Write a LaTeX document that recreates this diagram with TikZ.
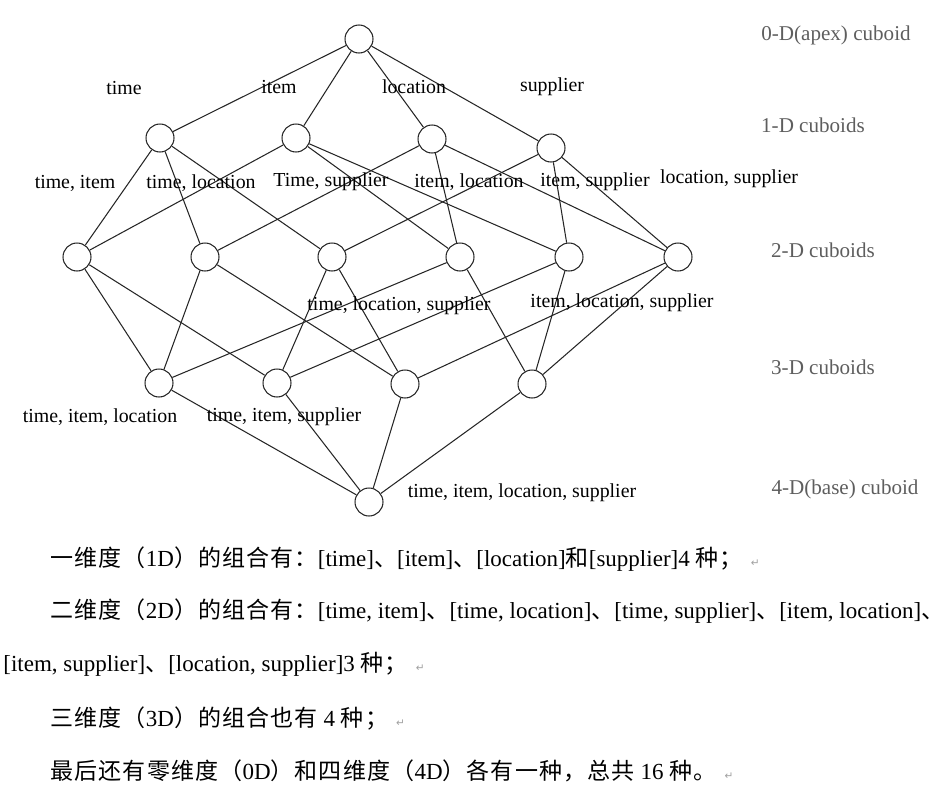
\documentclass[tikz,border=0pt]{standalone}
\usepackage{fontspec}
\setmainfont{Liberation Serif}
\newfontfamily\cjk[LetterSpace=5]{Noto Sans CJK SC}
\newfontfamily\marksym{DejaVu Sans}
\usepackage{tikz}
\usetikzlibrary{positioning}
\definecolor{levelgray}{HTML}{5E5E5E}
\definecolor{markgray}{HTML}{A0A0A0}
\newcommand{\zhtxt}[1]{{\cjk #1}}
\newcommand{\parmark}{\hspace{0.35em}{\marksym\fontsize{6}{7}\selectfont\textcolor{markgray}{↵}}}

\begin{document}
\begin{tikzpicture}[
    x=0.02cm, y=-0.02cm,
    cuboid/.style={
        circle,
        minimum size=0.56cm,
        inner sep=0pt,
        draw=black!85,
        fill=white,
        line width=0.6pt
    },
    link/.style={
        draw=black!85,
        line width=0.6pt
    },
    dimname/.style={
        font=\fontsize{11.3}{13}\selectfont,
        inner sep=0pt
    },
    levelname/.style={
        font=\fontsize{12}{14}\selectfont,
        text=levelgray,
        inner sep=0pt
    },
    textline/.style={
        anchor=west,
        font=\fontsize{13.1}{15}\selectfont,
        inner sep=0pt
    }
]

\useasboundingbox (0,0) rectangle (945,801);

% Apex
\node[cuboid] (apex) at (359,39) {};

% 1-D cuboids
\node[cuboid] (t) at (160,138) {};
\node[cuboid] (i) at (296,138) {};
\node[cuboid] (l) at (432,139) {};
\node[cuboid] (s) at (551,148) {};

% 2-D cuboids
\node[cuboid] (ti) at (77,257) {};
\node[cuboid] (tl) at (205,257) {};
\node[cuboid] (ts) at (332,257) {};
\node[cuboid] (il) at (460,257) {};
\node[cuboid] (is) at (569,257) {};
\node[cuboid] (ls) at (678,257) {};

% 3-D cuboids
\node[cuboid] (til) at (159,383) {};
\node[cuboid] (tis) at (277,383) {};
\node[cuboid] (tls) at (405,384) {};
\node[cuboid] (ils) at (532,384) {};

% Base
\node[cuboid] (base) at (369,502) {};

% Lattice edges
\foreach \a/\b in {apex/t, apex/i, apex/l, apex/s,
                   t/ti, t/tl, t/ts, i/ti, i/il, i/is,
                   l/tl, l/il, l/ls, s/ts, s/is, s/ls,
                   ti/til, ti/tis, tl/til, tl/tls, ts/tis, ts/tls,
                   il/til, il/ils, is/tis, is/ils, ls/tls, ls/ils,
                   til/base, tis/base, tls/base, ils/base} {
    \draw[link] (\a) -- (\b);
}

% Dimension labels
\node[dimname] (lt) at (124,88) {time};
\node[dimname] (li) at (279,87) {item};
\node[dimname] (ll) at (414,87) {location};
\node[dimname] (lsu) at (552,87) {supplier};

\node[dimname] (lti) at (75,183) {time, item};
\node[dimname] (ltl) at (201,183) {time, location};
\node[dimname] (lts) at (331,182) {Time, supplier};
\node[dimname] (lil) at (469,182) {item, location};
\node[dimname] (lis) at (595,182) {item, supplier};
\node[dimname] (lls) at (729,179) {location, supplier};

\node[dimname] (ltls) at (399,306) {time, location, supplier};
\node[dimname] (lils) at (622,303) {item, location, supplier};
\node[dimname] (ltil) at (100,417) {time, item, location};
\node[dimname] (ltis) at (284,417) {time, item, supplier};
\node[dimname] (lbase) at (522,493) {time, item, location, supplier};

% Level names
\node[levelname] (lv0) at (836,35) {0-D(apex) cuboid};
\node[levelname] (lv1) at (813,125) {1-D cuboids};
\node[levelname] (lv2) at (823,250) {2-D cuboids};
\node[levelname] (lv3) at (823,367) {3-D cuboids};
\node[levelname] (lv4) at (845,489) {4-D(base) cuboid};

% Notes below
\node[textline] (p1) at (50,559) {\zhtxt{一维度（}1D\zhtxt{）的组合有：}[time]\zhtxt{、}[item]\zhtxt{、}[location]\zhtxt{和}[supplier]4 \zhtxt{种；}\parmark};
\node[textline] (p2) at (50,611) {\zhtxt{二维度（}2D\zhtxt{）的组合有：}[time, item]\zhtxt{、}[time, location]\zhtxt{、}[time, supplier]\zhtxt{、}[item, location]\zhtxt{、}};
\node[textline] (p2b) at (3,664) {[item, supplier]\zhtxt{、}[location, supplier]3 \zhtxt{种；}\parmark};
\node[textline] (p3) at (50,718) {\zhtxt{三维度（}3D\zhtxt{）的组合也有} 4 \zhtxt{种；}\parmark};
\node[textline] (p4) at (50,771) {\zhtxt{最后还有零维度（}0D\zhtxt{）和四维度（}4D\zhtxt{）各有一种，总共} 16 \zhtxt{种。}\parmark};

\end{tikzpicture}
\end{document}
